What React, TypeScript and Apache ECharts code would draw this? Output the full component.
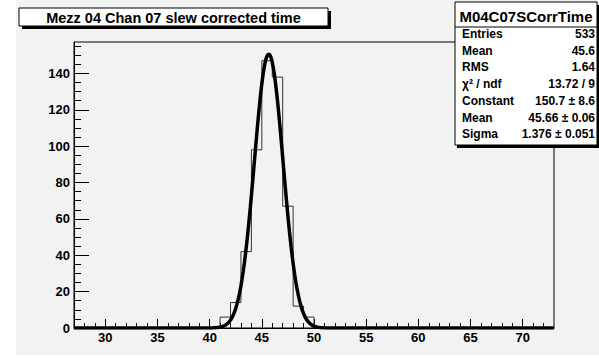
import React, { useEffect, useRef } from "react";
import * as echarts from "echarts";

// ---- data ----
const binStart = 27;
const binWidth = 1;
// counts per bin, bins [27,28) ... [72,73) — 46 bins
const binCounts = [
  0, 0, 0, 0, 0, 0, 0, 0, 0, 0, // bins 27..36
  0, 0, 0, 0, // bins 37..40
  6, 14, 42, 98, 147, 138, 67, 12, 6, // bins 41..49
  0, 0, 0, 0, 0, 0, 0, 0, 0, 0, // bins 50..59
  0, 0, 0, 0, 0, 0, 0, 0, 0, 0, // bins 60..69
  0, 0, 0, // bins 70..72
];
// Gaussian fit parameters (shown in the stats box)
const fitConstant = 150.7;
const fitMean = 45.66;
const fitSigma = 1.376;

const xMin = 27;
const xMax = 73;
const yMin = 0;
const yMax = 157.3;
const xMajorTicks = [30, 35, 40, 45, 50, 55, 60, 65, 70];
const yMajorTicks = [0, 20, 40, 60, 80, 100, 120, 140];

const titleText = "Mezz 04 Chan 07 slew corrected time";
const statsTitle = "M04C07SCorrTime";
const statsLabels = ["Entries", "Mean", "RMS", "\u03c7\u00b2 / ndf", "Constant", "Mean", "Sigma"];
const statsValues = ["533", "45.6", "1.64", "13.72 / 9", "150.7 \u00b1 8.6", "45.66 \u00b1 0.06", "1.376 \u00b1 0.051"];

const FONT = "'Liberation Sans', Arial, Helvetica, sans-serif";

export default function App() {
  const ref = useRef<HTMLDivElement>(null);

  useEffect(() => {
    if (!ref.current) return;
    const chart = echarts.init(ref.current, undefined, { renderer: "svg" });

    const xMinorTicks: number[] = [];
    for (let v = xMin + 1; v < xMax; v += 1) xMinorTicks.push(v);
    const yMinorTicks: number[] = [];
    for (let v = 5; v < yMax; v += 5) yMinorTicks.push(v);

    // histogram outline: each bin drawn from its low edge to its high edge
    const histData: number[][] = [];
    binCounts.forEach((c, i) => {
      const lo = binStart + i * binWidth;
      histData.push([lo, c]);
      histData.push([lo + binWidth, c]);
    });

    const fitData: number[][] = [];
    const nFit = 400;
    for (let i = 0; i <= nFit; i++) {
      const x = xMin + ((xMax - xMin) * i) / nFit;
      const z = (x - fitMean) / fitSigma;
      fitData.push([x, fitConstant * Math.exp(-0.5 * z * z)]);
    }

    const gL = 74, gT = 42, gW = 480, gH = 286;

    const statsX = 455, statsY = 2, statsW = 142, statsH = 143;
    const rowY0 = 34, rowDy = 16.7;

    const statsTexts: any[] = [];
    statsLabels.forEach((lab, i) => {
      statsTexts.push({
        type: "text",
        z: 12,
        x: 462,
        y: rowY0 + i * rowDy,
        style: { text: lab, font: `bold 12px ${FONT}`, fill: "#000", align: "left", verticalAlign: "middle" },
      });
      statsTexts.push({
        type: "text",
        z: 12,
        x: 595,
        y: rowY0 + i * rowDy,
        style: {
          text: statsValues[i],
          font: `bold 12px ${FONT}`,
          fill: "#000",
          align: "right",
          verticalAlign: "middle",
        },
      });
    });

    const axisFont = { fontFamily: FONT, fontWeight: "bold" as const, fontSize: 13, color: "#000" };

    chart.setOption({
      animation: false,
      backgroundColor: "#ffffff",
      grid: {
        left: gL,
        top: gT,
        width: gW,
        height: gH,
        show: true,
        borderColor: "#000",
        borderWidth: 1,
        backgroundColor: "transparent",
      },
      xAxis: [
        {
          type: "value",
          min: xMin,
          max: xMax,
          axisLine: { show: true, onZero: false, lineStyle: { color: "#000", width: 1 } },
          axisTick: { show: true, inside: true, length: 9, customValues: xMajorTicks, lineStyle: { color: "#000" } },
          axisLabel: { show: true, customValues: xMajorTicks, margin: 3, ...axisFont },
          splitLine: { show: false },
        },
        {
          type: "value",
          min: xMin,
          max: xMax,
          position: "bottom",
          axisLine: { show: false },
          axisTick: { show: true, inside: true, length: 5, customValues: xMinorTicks, lineStyle: { color: "#000" } },
          axisLabel: { show: false },
          splitLine: { show: false },
        },
      ],
      yAxis: [
        {
          type: "value",
          min: yMin,
          max: yMax,
          axisLine: { show: true, onZero: false, lineStyle: { color: "#000", width: 1 } },
          axisTick: { show: true, inside: true, length: 15, customValues: yMajorTicks, lineStyle: { color: "#000" } },
          axisLabel: { show: true, customValues: yMajorTicks, margin: 4, ...axisFont },
          splitLine: { show: false },
        },
        {
          type: "value",
          min: yMin,
          max: yMax,
          position: "left",
          axisLine: { show: false },
          axisTick: { show: true, inside: true, length: 7, customValues: yMinorTicks, lineStyle: { color: "#000" } },
          axisLabel: { show: false },
          splitLine: { show: false },
        },
      ],
      series: [
        {
          type: "line",
          xAxisIndex: 0,
          yAxisIndex: 0,
          data: histData,
          symbol: "none",
          lineStyle: { color: "#333", width: 1 },
          z: 2,
        },
        {
          type: "line",
          xAxisIndex: 0,
          yAxisIndex: 0,
          data: fitData,
          symbol: "none",
          smooth: false,
          lineStyle: { color: "#000", width: 3.5 },
          z: 3,
        },
      ],
      graphic: [
        {
          type: "rect",
          z: -10,
          silent: true,
          shape: { x: 16, y: 0, width: 583, height: 355 },
          style: { fill: "#f2f2f2" },
        },
        // title pave
        {
          type: "rect",
          z: 10,
          shape: { x: 22, y: 11, width: 309, height: 18 },
          style: { fill: "#000" },
        },
        {
          type: "rect",
          z: 11,
          shape: { x: 19, y: 8, width: 309, height: 18 },
          style: { fill: "#ffffff", stroke: "#000", lineWidth: 1 },
        },
        {
          type: "text",
          z: 12,
          x: 173.5,
          y: 17.5,
          style: {
            text: titleText,
            font: `bold 14.5px ${FONT}`,
            fill: "#000",
            align: "center",
            verticalAlign: "middle",
          },
        },
        // stats pave
        {
          type: "rect",
          z: 10,
          shape: { x: statsX + 2, y: statsY + 3, width: statsW, height: statsH },
          style: { fill: "#000" },
        },
        {
          type: "rect",
          z: 11,
          shape: { x: statsX, y: statsY, width: statsW, height: statsH },
          style: { fill: "#ffffff", stroke: "#000", lineWidth: 1 },
        },
        {
          type: "line",
          z: 12,
          shape: { x1: statsX, y1: 27, x2: statsX + statsW, y2: 27 },
          style: { stroke: "#000", lineWidth: 1 },
        },
        {
          type: "text",
          z: 12,
          x: statsX + statsW / 2,
          y: 16,
          style: {
            text: statsTitle,
            font: `bold 15px ${FONT}`,
            fill: "#000",
            align: "center",
            verticalAlign: "middle",
          },
        },
        ...statsTexts,
      ],
    });

    return () => chart.dispose();
  }, []);

  return (
    <div
      ref={ref}
      style={{ position: "absolute", left: 0, top: 0, width: 599, height: 358 }}
    />
  );
}
